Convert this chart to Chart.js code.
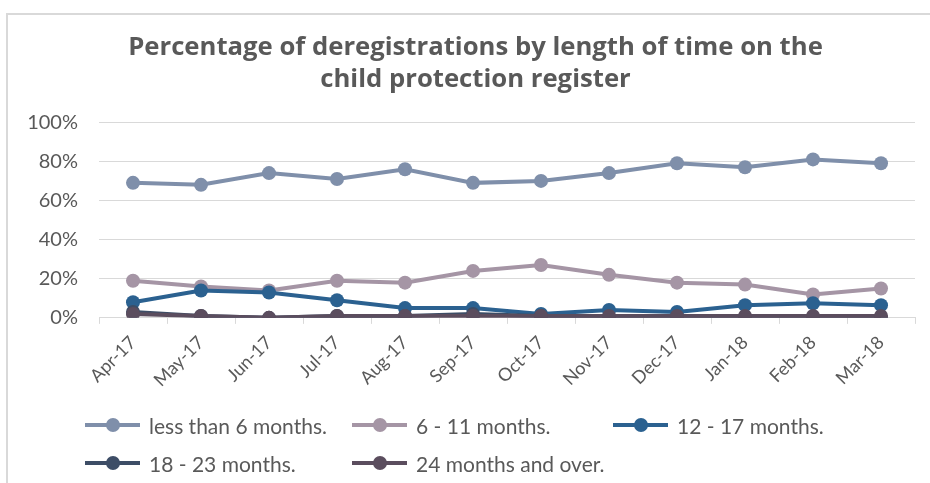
<!DOCTYPE html>
<html>
<head>
<meta charset="utf-8">
<script src="https://cdn.jsdelivr.net/npm/chart.js@4/dist/chart.umd.min.js"></script>
<style>
    html, body { margin: 0; padding: 0; background: #fff; }
    #wrap { position: relative; width: 930px; height: 483px; overflow: hidden; }
    #frame { position: absolute; left: 6px; top: 13px; width: 1000px; height: 600px;
             border-left: 2px solid #d9d9d9; border-top: 2px solid #d9d9d9; }
    #chart { position: absolute; left: 0; top: 0; }
    .leg { position: absolute; display: flex; align-items: center; height: 24px;
           font-family: Lato, sans-serif; font-size: 21px; color: #595959; white-space: nowrap; }
    .leg .ico { position: relative; width: 55px; height: 24px; margin-right: 9px; }
    .leg .ico .ln { position: absolute; left: 0; right: 0; top: 10px; height: 4px; }
    .leg .ico .dot { position: absolute; left: 21px; top: 5px; width: 14px; height: 14px; border-radius: 50%; }
</style>
</head>
<body>
<div id="wrap">
    <div id="frame"></div>
    <canvas id="chart" width="930" height="483"></canvas>
    <div id="legend"></div>
</div>
<script>
const months = ["Apr-17", "May-17", "Jun-17", "Jul-17", "Aug-17", "Sep-17",
                "Oct-17", "Nov-17", "Dec-17", "Jan-18", "Feb-18", "Mar-18"];

const seriesNames = ["less than 6 months.", "6 - 11 months.", "12 - 17 months.",
                     "18 - 23 months.", "24 months and over."];

const lessThan6 = [69, 68, 74, 71, 76, 69, 70, 74, 79, 77, 81, 79];
const from6to11 = [19, 16, 14, 19, 18, 24, 27, 22, 18, 17, 12, 15];
const from12to17 = [8, 14, 13, 9, 5, 5, 2, 4, 3, 6.5, 7.5, 6.5];
const from18to23 = [3, 1, 0, 1, 1, 2, 1, 0, 0, 0, 0, 0];
const over24 = [2, 1, 0, 1, 1, 1, 1, 1, 1, 1, 1, 1];

const yTicks = [0, 20, 40, 60, 80, 100];

const colors = ["#7f8faa", "#a595a5", "#2b6190", "#3d4d66", "#5b4d5e"];
const seriesValues = [lessThan6, from6to11, from12to17, from18to23, over24];

const textColor = "#595959";
const gridColor = "#d9d9d9";

const datasets = seriesValues.map((vals, i) => ({
    label: seriesNames[i],
    data: vals,
    borderColor: colors[i],
    backgroundColor: colors[i],
    pointBackgroundColor: colors[i],
    pointBorderColor: colors[i],
    borderWidth: 4,
    pointRadius: 7,
    pointBorderWidth: 0,
    tension: 0,
    order: seriesValues.length - i
}));

new Chart(document.getElementById("chart"), {
    type: "line",
    data: { labels: months, datasets: datasets },
    options: {
        responsive: false,
        animation: false,
        layout: { padding: { left: 26, right: 5, top: 0, bottom: 84 } },
        plugins: {
            legend: { display: false },
            tooltip: { enabled: false },
            title: {
                display: true,
                text: ["Percentage of deregistrations by length of time on the",
                       "child protection register"],
                color: textColor,
                font: { family: "Open Sans", size: 25.7, weight: "bold", lineHeight: 1.23 },
                padding: { top: 32, bottom: 27 }
            }
        },
        scales: {
            x: {
                offset: true,
                grid: { display: true, drawOnChartArea: false, drawTicks: true,
                        tickLength: 6, offset: true, color: gridColor },
                border: { color: gridColor, width: 1 },
                ticks: {
                    color: textColor,
                    font: { family: "Lato", size: 18 },
                    minRotation: 45, maxRotation: 45,
                    autoSkip: false, padding: 8
                }
            },
            y: {
                min: 0, max: 100,
                afterBuildTicks: axis => { axis.ticks = yTicks.map(v => ({ value: v })); },
                afterFit: axis => { axis.width = 73; },
                grid: { color: gridColor, drawTicks: false },
                border: { display: false },
                ticks: {
                    color: textColor,
                    font: { family: "Lato", size: 20 },
                    padding: 21,
                    callback: v => v + "%"
                }
            },
            // empty right-hand gutter so the title centres over the whole frame
            yRight: {
                type: "linear",
                position: "right",
                min: 0, max: 100,
                afterFit: axis => { axis.width = 10; },
                grid: { drawOnChartArea: false, drawTicks: false },
                border: { display: false },
                ticks: { display: false }
            }
        }
    }
});

// legend laid out in Excel-like columns
const legendPos = [[85, 413], [352, 413], [613, 413], [85, 451], [352, 451]];
const legendEl = document.getElementById("legend");
seriesNames.forEach((name, i) => {
    const item = document.createElement("div");
    item.className = "leg";
    item.style.left = legendPos[i][0] + "px";
    item.style.top = legendPos[i][1] + "px";
    item.innerHTML = '<div class="ico"><div class="ln" style="background:' + colors[i] +
        '"></div><div class="dot" style="background:' + colors[i] + '"></div></div>' +
        '<span>' + name + '</span>';
    legendEl.appendChild(item);
});
</script>
</body>
</html>
